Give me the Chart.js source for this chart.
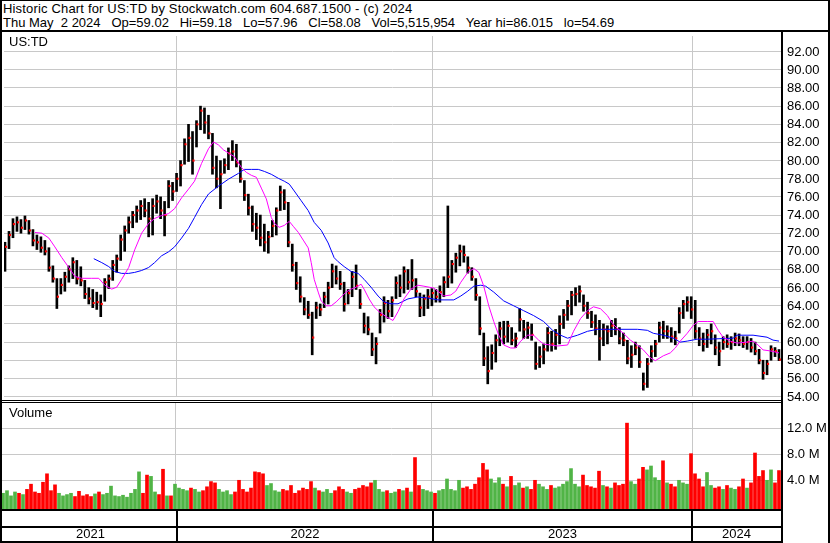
<!DOCTYPE html>
<html lang="en">
<head>
<meta charset="UTF-8">
<title>Historic Chart for US:TD</title>
<script src="https://cdn.jsdelivr.net/npm/chart.js"></script>
<style>
  body { margin: 0; background: #fff; font-family: "Liberation Sans", Arial, sans-serif; }
  #wrap { position: relative; width: 830px; height: 543px; overflow: hidden; background: #fff; }
  .ln { position: absolute; background: #000; }
  .txt { position: absolute; font-size: 13px; line-height: 14px; color: #000; white-space: pre; }
  .yr { position: absolute; top: 527px; font-size: 13px; line-height: 14px; text-align: center; }
  canvas { position: absolute; }
</style>
</head>
<body>
<div id="wrap">
  <div class="txt" style="left:3px;top:2px;letter-spacing:0.17px">Historic Chart for US:TD by Stockwatch.com 604.687.1500 - (c) 2024</div>
  <div class="txt" style="left:3px;top:16px">Thu May  2 2024   Op=59.02   Hi=59.18   Lo=57.96   Cl=58.08   Vol=5,515,954   Year hi=86.015   lo=54.69</div>

  <canvas id="priceChart" width="830" height="369" style="left:0;top:32px"></canvas>
  <canvas id="volChart" width="830" height="106" style="left:0;top:403px"></canvas>

  <div class="txt" style="left:9px;top:35px">US:TD</div>
  <div class="txt" style="left:9px;top:406px">Volume</div>

  <!-- frame -->
  <div class="ln" style="left:0;top:0;width:830px;height:1px"></div>
  <div class="ln" style="left:0;top:0;width:2px;height:543px"></div>
  <div class="ln" style="left:828px;top:0;width:2px;height:543px"></div>
  <div class="ln" style="left:0;top:30px;width:830px;height:2px"></div>
  <div class="ln" style="left:781px;top:32px;width:2px;height:511px"></div>
  <div class="ln" style="left:2px;top:400px;width:779px;height:1px"></div>
  <div class="ln" style="left:2px;top:402px;width:779px;height:1px"></div>
  <div class="ln" style="left:2px;top:509px;width:779px;height:2px"></div>
  <div class="ln" style="left:2px;top:526px;width:779px;height:2px"></div>
  <div class="ln" style="left:0;top:541px;width:783px;height:2px"></div>
  <div id="labels"></div>
</div>

<script>
// ~4 trading days per bar, first bar late Apr 2021, last bar Thu May 2 2024
var hi = [
  71.0, 72.2, 73.6, 73.8, 73.5, 73.9, 73.4, 72.4, 71.8, 71.6,
  71.2, 70.4, 68.4, 67.0, 67.0, 67.7, 68.4, 69.3, 69.0, 68.3,
  66.8, 66.0, 65.8, 65.5, 65.2, 67.0, 67.4, 69.0, 69.6, 71.8,
  72.8, 73.8, 74.4, 75.0, 75.6, 75.8, 75.4, 75.8, 76.2, 76.0,
  75.5, 77.8, 77.6, 78.6, 80.0, 82.4, 84.0, 83.2, 84.4, 86.0,
  85.8, 85.0, 83.0, 80.5, 80.0, 80.2, 81.4, 82.2, 81.8, 80.0,
  77.8, 76.3, 75.0, 74.2, 74.0, 73.0, 72.2, 73.4, 74.8, 77.2,
  76.8, 75.4, 70.8, 68.8, 67.2, 64.9, 64.5, 63.3, 64.4, 64.2,
  65.5, 66.6, 68.6, 68.4, 67.8, 66.6, 65.8, 67.8, 68.5, 65.8,
  63.2, 62.8, 61.0, 60.5, 63.6, 65.0, 64.6, 65.0, 67.2, 67.4,
  68.3, 68.0, 69.1, 67.0, 65.4, 65.2, 65.8, 65.9, 65.8, 66.2,
  67.2, 75.0, 69.0, 69.8, 70.7, 70.6, 69.4, 68.2, 67.0, 65.0,
  61.0, 59.5, 59.7, 60.8, 62.2, 62.3, 62.3, 61.6, 61.0, 63.7,
  62.4, 62.2, 62.0, 60.0, 59.5, 59.8, 61.6, 61.2, 61.4, 62.9,
  63.6, 64.6, 65.6, 66.0, 66.2, 65.2, 64.4, 63.4, 63.0, 62.4,
  62.0, 61.8, 62.4, 62.6, 61.6, 61.0, 60.2, 59.6, 60.0, 59.6,
  56.6, 58.2, 59.6, 60.2, 62.2, 62.3, 61.8, 61.6, 61.2, 63.8,
  64.6, 65.0, 65.0, 64.6, 61.6, 61.0, 61.4, 62.0, 60.8, 60.0,
  60.6, 60.8, 60.6, 61.0, 60.9, 60.6, 60.6, 60.4, 60.0, 59.2,
  58.0, 58.0, 59.6, 59.4, 59.18
];
var lo = [
  67.8, 70.3, 71.5, 72.2, 72.0, 72.4, 71.9, 70.6, 70.2, 69.9,
  69.6, 67.8, 66.6, 63.7, 65.3, 65.6, 66.6, 67.0, 66.4, 66.2,
  64.8, 64.2, 63.8, 63.6, 62.8, 64.5, 65.9, 66.8, 67.7, 69.0,
  70.0, 72.0, 72.6, 73.2, 73.5, 73.8, 71.6, 71.8, 74.2, 73.6,
  71.7, 74.8, 75.6, 76.6, 77.2, 79.6, 79.9, 78.5, 81.5, 83.4,
  83.0, 82.4, 78.5, 77.0, 74.7, 78.6, 79.0, 80.0, 79.3, 77.6,
  75.6, 74.0, 72.2, 71.3, 70.6, 70.0, 69.8, 71.6, 71.8, 74.5,
  74.6, 70.5, 67.8, 65.8, 64.4, 63.0, 62.6, 58.6, 62.6, 62.9,
  63.8, 64.2, 66.0, 66.4, 65.8, 63.4, 64.2, 65.0, 65.8, 63.7,
  61.0, 60.8, 58.5, 57.6, 61.0, 62.2, 62.6, 62.8, 64.8, 65.0,
  65.4, 65.8, 65.8, 65.0, 62.8, 62.9, 63.7, 64.0, 64.4, 64.4,
  65.0, 66.0, 66.5, 67.7, 68.4, 68.8, 67.6, 66.8, 64.6, 60.8,
  57.4, 55.4, 57.0, 57.8, 59.6, 59.8, 60.0, 59.7, 59.4, 61.2,
  60.4, 60.4, 60.2, 57.0, 57.2, 57.6, 59.0, 59.0, 59.2, 59.8,
  61.5, 62.4, 63.0, 64.0, 64.4, 63.4, 62.6, 61.6, 60.8, 58.0,
  59.6, 59.8, 60.6, 60.8, 59.8, 59.6, 57.6, 57.2, 58.6, 57.2,
  54.7, 55.0, 57.8, 58.4, 60.0, 60.4, 60.4, 60.0, 59.7, 61.0,
  62.6, 63.4, 62.6, 60.4, 59.6, 59.0, 59.4, 59.8, 58.6, 57.4,
  59.2, 59.4, 59.2, 59.6, 59.6, 59.4, 59.2, 58.9, 58.6, 57.6,
  55.9, 56.4, 58.0, 58.4, 57.96
];
var close = [
  70.5, 71.8, 73.0, 73.2, 72.6, 73.4, 72.3, 71.2, 71.0, 70.4,
  70.0, 68.2, 67.0, 65.0, 66.3, 67.2, 68.0, 68.8, 67.0, 66.8,
  65.3, 64.8, 64.3, 64.4, 64.2, 66.6, 67.0, 68.5, 69.2, 71.3,
  72.3, 73.2, 74.0, 74.5, 75.0, 74.5, 73.6, 75.0, 75.5, 74.5,
  74.0, 77.2, 76.6, 78.0, 79.5, 81.8, 82.5, 80.0, 84.0, 85.5,
  84.2, 83.0, 79.2, 78.0, 78.5, 79.5, 80.8, 81.0, 79.8, 78.0,
  76.2, 74.8, 73.0, 72.6, 71.5, 71.0, 71.6, 72.8, 74.5, 76.5,
  75.4, 71.0, 68.5, 66.5, 65.0, 63.6, 63.0, 60.5, 63.8, 63.6,
  65.0, 66.0, 67.8, 67.0, 66.4, 64.2, 65.4, 67.2, 66.2, 64.2,
  61.8, 61.4, 59.2, 59.8, 63.0, 64.3, 63.4, 64.6, 66.5, 66.0,
  67.8, 66.6, 66.8, 65.6, 63.8, 64.8, 65.0, 65.4, 65.0, 65.5,
  66.6, 67.2, 68.6, 69.3, 70.0, 69.6, 68.2, 67.2, 65.2, 61.5,
  58.2, 56.8, 58.8, 60.2, 61.5, 60.6, 61.8, 60.2, 60.4, 62.5,
  61.4, 61.6, 60.8, 57.6, 58.4, 59.2, 61.0, 59.8, 60.8, 62.0,
  63.0, 64.0, 65.2, 65.3, 65.6, 64.0, 63.2, 62.2, 61.5, 60.4,
  61.4, 61.2, 61.8, 61.4, 60.4, 60.2, 58.2, 58.6, 59.4, 57.8,
  55.4, 57.6, 59.0, 59.8, 61.6, 61.2, 61.2, 60.6, 60.4, 63.2,
  64.2, 64.4, 63.6, 61.2, 60.4, 59.8, 60.8, 61.2, 59.4, 59.0,
  60.0, 59.8, 60.0, 60.4, 60.2, 59.8, 60.0, 59.4, 59.0, 58.0,
  56.6, 57.6, 59.2, 59.0, 58.08
];
// volume in millions of shares
var vol = [
  2.0, 2.4, 1.6, 2.2, 2.0, 1.8, 2.6, 3.4, 2.2, 2.0,
  3.7, 5.0, 2.4, 3.3, 2.0, 1.6, 1.8, 2.0, 1.5, 2.3,
  1.6, 1.8, 1.5, 1.9, 2.2, 1.8, 2.0, 3.1, 1.6, 1.5,
  1.7, 1.4, 2.0, 2.6, 5.3, 2.0, 4.8, 4.6, 2.2, 1.8,
  5.7, 1.6, 1.6, 3.4, 2.8, 2.6, 2.4, 2.8, 2.6, 2.2,
  2.4, 3.0, 3.8, 3.6, 2.6, 2.2, 2.4, 1.8, 2.2, 4.0,
  2.6, 2.2, 2.8, 5.3, 5.2, 5.0, 3.2, 3.5, 2.4, 2.2,
  2.6, 2.4, 3.2, 2.0, 2.4, 2.8, 2.6, 3.8, 2.8, 2.4,
  2.2, 2.6, 2.0, 2.4, 3.0, 2.6, 2.2, 2.0, 2.6, 2.8,
  3.2, 3.0, 3.6, 4.0, 2.6, 2.2, 2.4, 2.0, 2.2, 2.6,
  2.4, 2.8, 2.2, 7.5, 3.2, 2.6, 2.4, 2.2, 2.0, 2.4,
  2.6, 4.2, 2.6, 2.4, 4.0, 2.8, 3.0, 2.6, 3.4, 4.4,
  6.6, 5.6, 4.2, 3.6, 4.4, 3.4, 3.0, 4.6, 3.2, 3.6,
  2.8, 3.0, 2.6, 4.0, 3.4, 3.0, 2.6, 3.2, 2.8, 3.0,
  3.4, 3.8, 5.8, 3.4, 3.0, 4.8, 3.2, 3.0, 2.8, 5.4,
  3.2, 3.0, 2.8, 3.6, 3.2, 3.4, 12.8, 3.8, 3.4, 4.2,
  6.0, 5.6, 6.2, 4.4, 4.0, 7.0, 3.6, 3.4, 3.0, 4.0,
  3.6, 3.4, 8.1, 5.0, 4.2, 3.0, 5.2, 3.2, 2.8, 3.0,
  2.6, 3.2, 2.8, 2.6, 3.0, 4.2, 2.8, 3.6, 8.2, 4.6,
  5.5, 4.0, 5.6, 3.6, 5.5
];

// moving averages: [trading day, price]
var maFast = [
  [30,72.08],[37,72.0],[44,71.46],[50,70.49],[57,69.3],[64,68.22],[70,67.24],[77,67.03],[87,67.03],[94,67.03],
  [100,66.27],[107,65.84],[112,66.05],[117,66.92],[124,68.22],[130,70.16],[137,72.0],[144,73.08],[150,73.62],[157,73.95],
  [164,74.16],[170,74.7],[177,75.89],[184,76.86],[190,77.73],[197,79.68],[204,81.3],[209,82.05],[214,81.73],[219,81.19],
  [225,80.76],[230,80.43],[237,79.24],[242,78.7],[247,78.38],[252,78.16],[257,76.97],[262,75.78],[267,73.73],[270,73.08],
  [275,72.65],[280,72.86],[285,73.3],[289,72.76],[294,72.1],[299,71.24],[304,70.38],[307,68.76],[310,66.92],[314,65.51],
  [317,64.54],[322,64.0],[327,64.0],[332,64.43],[337,64.97],[342,65.51],[347,65.84],[352,66.05],[357,66.38],[360,65.84],
  [365,64.76],[370,63.89],[375,63.35],[382,62.81],[389,62.38],[394,63.35],[400,64.76],[407,65.84],[414,66.27],[420,66.16],
  [430,65.95],[435,65.51],[440,65.08],[447,65.19],[452,65.62],[457,66.59],[464,67.68],[470,68.11],[475,67.68],[480,66.16],
  [485,64.0],[490,62.27],[495,60.76],[500,59.68],[507,59.35],[512,59.35],[517,60.11],[524,60.76],[530,60.76],[535,60.22],
  [540,59.78],[547,59.68],[554,59.57],[564,59.68],[570,61.19],[577,62.59],[584,63.46],[590,63.89],[597,63.68],[604,62.92],
  [609,62.05],[614,61.51],[620,60.97],[627,60.22],[634,59.68],[640,59.14],[647,58.27],[652,57.95],[660,58.49],[667,58.81],
  [672,59.35],[677,60.11],[684,60.97],[690,61.84],[695,62.27],[704,62.27],[710,62.27],[715,61.3],[720,60.54],[727,60.11],
  [734,59.89],[744,60.0],[750,60.11],[755,59.68],[760,59.14],[767,59.03],[772,58.92],[776,58.81]
];
var maSlow = [
  [89,69.19],[97,68.76],[104,68.32],[110,67.78],[117,67.57],[124,67.57],[130,67.68],[137,67.89],[144,68.22],[150,68.76],
  [157,69.51],[164,69.95],[170,70.49],[177,71.46],[184,72.54],[190,73.73],[197,75.14],[204,76.32],[214,77.19],[224,77.95],
  [234,78.59],[240,79.03],[247,79.03],[254,79.03],[260,78.81],[267,78.49],[274,78.05],[280,77.73],[285,77.41],[290,76.65],
  [297,75.57],[304,74.49],[310,73.19],[317,72.32],[324,70.92],[330,69.3],[334,68.86],[340,68.32],[347,67.78],[354,67.57],
  [360,66.92],[367,66.05],[374,65.08],[380,64.43],[387,64.22],[394,64.22],[404,64.76],[414,64.97],[424,64.86],[434,64.65],
  [450,64.65],[457,65.08],[464,65.62],[470,66.16],[477,66.27],[482,66.16],[490,65.51],[500,64.54],[510,64.0],[520,63.46],
  [530,62.92],[540,62.27],[549,61.3],[557,60.76],[564,60.43],[574,60.76],[584,61.19],[594,61.41],[614,61.41],[634,61.41],
  [644,61.3],[650,60.97],[660,60.76],[670,60.43],[677,60.0],[684,60.11],[694,60.32],[704,60.32],[730,60.43],[734,60.76],
  [750,60.76],[764,60.54],[770,60.22],[776,60.11]
];

// first trading day of each calendar year (index into the day axis)
var yearStartDays = [172, 429, 689];
var yearLabels = ['2021', '2022', '2023', '2024'];
var volTicks = [4, 8, 12];

var barStep = 4;
var days = hi.map(function (v, i) { return i * barStep; });

var gridColor = 'rgb(200,200,200)';
var labels = document.getElementById('labels');

function addText(parent, text, left, top, cls) {
    var el = document.createElement('div');
    el.className = cls || 'txt';
    el.style.left = left + 'px';
    el.style.top = top + 'px';
    el.textContent = text;
    parent.appendChild(el);
    return el;
}

function dayAxis() {
    return {
        type: 'linear', min: -1, max: 778, offset: false,
        grid: { offset: false, color: gridColor, drawTicks: false },
        border: { display: false },
        ticks: { display: false },
        afterBuildTicks: function (s) { s.ticks = yearStartDays.map(function (d) { return { value: d }; }); },
        afterFit: function (s) { s.height = 0; }
    };
}

function valueAxis(min, max, extra) {
    var ax = {
        position: 'right', min: min, max: max,
        grid: { color: gridColor, drawTicks: false },
        border: { display: false },
        ticks: { display: false, autoSkip: false, includeBounds: false },
        afterFit: function (s) { s.width = 49; }
    };
    return Object.assign(ax, extra);
}

var baseOptions = {
    responsive: false, animation: false, devicePixelRatio: 1,
    layout: { padding: { left: 2, right: 0, top: 0, bottom: 0 } },
    plugins: { legend: { display: false }, tooltip: { enabled: false } }
};

// price panel
var priceChart = new Chart(document.getElementById('priceChart'), {
    type: 'bar',
    data: {
        datasets: [{
            type: 'line',
            data: maFast.map(function (p) { return { x: p[0], y: p[1] }; }),
            borderColor: '#ff00ff', borderWidth: 1, pointRadius: 0, tension: 0, order: 1
        }, {
            type: 'line',
            data: maSlow.map(function (p) { return { x: p[0], y: p[1] }; }),
            borderColor: '#0000ff', borderWidth: 1, pointRadius: 0, tension: 0, order: 1
        }, {
            // close tick, just right of each bar
            type: 'line',
            data: days.map(function (d, i) { return { x: d + 1, y: close[i] }; }),
            showLine: false, pointStyle: 'rect', pointRadius: 1.5, borderWidth: 0,
            backgroundColor: '#ff0000', order: 2
        }, {
            type: 'bar',
            data: days.map(function (d, i) { return { x: d, y: [lo[i], hi[i]] }; }),
            backgroundColor: '#000', barThickness: 2, order: 3
        }]
    },
    options: Object.assign({}, baseOptions, {
        scales: {
            x: dayAxis(),
            y: valueAxis(53.95, 93.73, {
                ticks: { display: false, autoSkip: false, includeBounds: false, stepSize: 2 }
            })
        }
    })
});

// volume panel
var volColors = close.map(function (c, i) {
    return (i === 0 || c >= close[i - 1]) ? 'rgb(80,180,70)' : '#ff0000';
});
var volMin = -0.42;
var volChart = new Chart(document.getElementById('volChart'), {
    type: 'bar',
    data: {
        datasets: [{
            data: days.map(function (d, i) { return { x: d, y: vol[i] }; }),
            backgroundColor: volColors, barThickness: 3, base: volMin
        }]
    },
    options: Object.assign({}, baseOptions, {
        scales: {
            x: dayAxis(),
            y: valueAxis(volMin, 15.9, {
                afterBuildTicks: function (s) { s.ticks = volTicks.map(function (v) { return { value: v }; }); }
            })
        }
    })
});

// right-hand axis labels
priceChart.scales.y.ticks.forEach(function (t) {
    addText(labels, t.value.toFixed(2), 787, 32 + Math.round(priceChart.scales.y.getPixelForValue(t.value)) - 7);
});
volTicks.forEach(function (v) {
    addText(labels, v.toFixed(1) + ' M', 787, 403 + Math.round(volChart.scales.y.getPixelForValue(v)) - 7);
});

// year band under the volume panel
var xs = priceChart.scales.x;
var edges = [priceChart.chartArea.left].concat(
    yearStartDays.map(function (d) { return Math.round(xs.getPixelForValue(d)); }),
    [priceChart.chartArea.right]);
yearLabels.forEach(function (label, i) {
    var el = addText(labels, label, edges[i], 527, 'yr');
    el.style.width = (edges[i + 1] - edges[i]) + 'px';
});
yearStartDays.forEach(function (d) {
    var el = document.createElement('div');
    el.className = 'ln';
    el.style.left = (Math.round(xs.getPixelForValue(d)) - 1) + 'px';
    el.style.top = '511px';
    el.style.width = '2px';
    el.style.height = '31px';
    labels.appendChild(el);
});
</script>
</body>
</html>
